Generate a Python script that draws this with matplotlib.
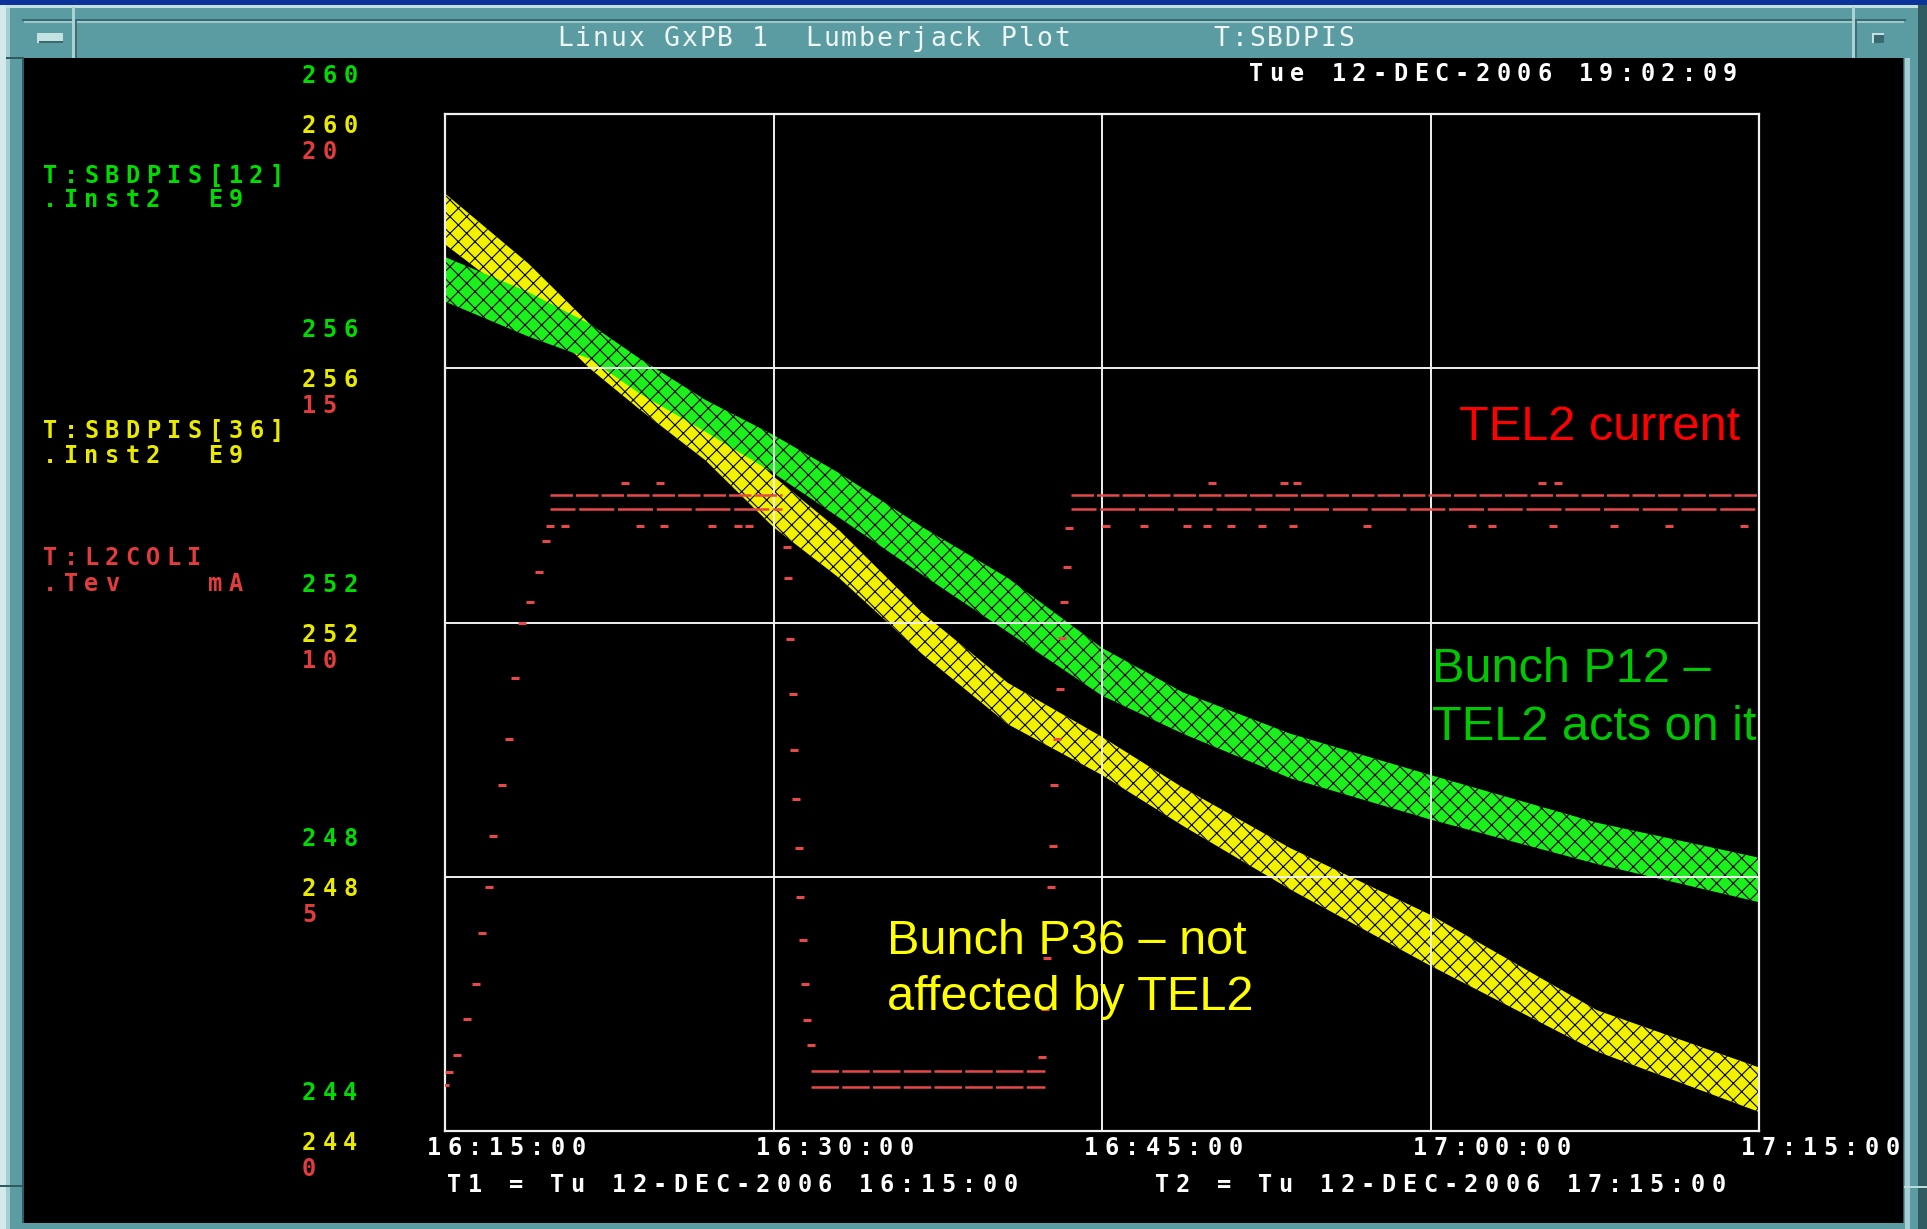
import numpy as np
import matplotlib
matplotlib.use('Agg')
import matplotlib.pyplot as plt
from matplotlib.patches import Rectangle

# Tiempo en minutos desde 16:15:00
t_tick = [0, 15, 30, 45, 60]
t_labels = ['16:15:00', '16:30:00', '16:45:00', '17:00:00', '17:15:00']
y_ticks = [260, 256, 252, 248, 244]          # T:SBDPIS[12] y [36], E9
red_ticks = [20, 15, 10, 5, 0]               # T:L2COLI, mA

# Banda P36 (amarilla): bordes superior / inferior
t_p36 = [0, 3.8, 6.6, 8.9, 11.9, 15, 18, 21.8, 25.7, 30, 33.7, 38.6, 45, 52.6, 60]
p36_hi = [258.75, 257.65, 256.7, 256.05, 255.3, 254.3, 253.45, 252.15, 251.05, 250.2,
          249.4, 248.45, 247.4, 245.9, 245.0]
p36_lo = [257.95, 256.95, 256.0, 255.35, 254.55, 253.5, 252.7, 251.5, 250.4, 249.6,
          248.8, 247.8, 246.6, 245.25, 244.3]

# Banda P12 (verde)
t_p12 = [0, 3.8, 6.6, 8.9, 11.9, 15, 18, 21.8, 25.7, 30, 33.7, 38.6, 45, 52.6, 60]
p12_hi = [257.75, 257.2, 256.7, 256.15, 255.5, 254.95, 254.35, 253.5, 252.7, 251.6,
          250.9, 250.25, 249.6, 248.85, 248.3]
p12_lo = [257.05, 256.5, 256.15, 255.6, 255.0, 254.35, 253.65, 252.75, 251.85, 250.85,
          250.25, 249.55, 248.9, 248.2, 247.6]

# Corriente TEL2 (mA): rampas
ramp1_t = [0.0, 0.17, 0.56, 1.0, 1.4, 1.7, 2.0, 2.2, 2.6, 2.9, 3.2, 3.5, 3.9, 4.3, 4.6, 4.8]
ramp1_i = [0.9, 1.16, 1.5, 2.2, 2.9, 3.9, 4.8, 5.8, 6.8, 7.7, 8.9, 10.0, 10.4, 11.0, 11.6, 11.9]
drop_t = [15.6, 15.66, 15.77, 15.88, 15.94, 16.05, 16.16, 16.2, 16.33, 16.44, 16.55, 16.72]
drop_i = [11.49, 10.88, 9.67, 8.59, 7.5, 6.53, 5.57, 4.6, 3.75, 2.9, 2.18, 1.7]
ramp2_t = [27.27, 27.38, 27.5, 27.67, 27.78, 27.83, 27.95, 28.06, 28.17, 28.28, 28.4, 28.5]
ramp2_i = [1.45, 2.4, 3.4, 4.8, 5.6, 6.8, 7.7, 8.7, 9.7, 10.4, 11.1, 11.85]
# Mesetas
hi_start = [4.8, 28.6]
hi_end = [15.4, 60]
hi_levels = [12.5, 12.24]
lo_start, lo_end = 16.7, 27.4
lo_levels = [1.18, 0.87]
# Puntos sueltos alrededor de las mesetas
stray_t = [8.2, 9.8, 5.5, 8.9, 10.0, 12.2, 13.4, 13.9, 35.0, 38.3, 38.9, 50.1, 50.8,
           30.2, 31.9, 33.9, 34.8, 35.9, 37.3, 38.7, 42.1, 46.9, 47.8, 50.6, 53.4, 55.9, 59.3]
stray_i = [12.75, 12.75, 11.9, 11.9, 11.9, 11.9, 11.9, 11.9, 12.75, 12.75, 12.75, 12.75, 12.75,
           11.9, 11.9, 11.9, 11.9, 11.9, 11.9, 11.9, 11.9, 11.9, 11.9, 11.9, 11.9, 11.9, 11.9]

W, H = 1927, 1229
TEAL = '#5b9ca2'
GREEN_TXT = '#00dc00'
YELLOW_TXT = '#eaea00'
RED_TXT = '#e23c3c'
MONO = 'DejaVu Sans Mono'

plt.rcParams['hatch.linewidth'] = 0.8
fig = plt.figure(figsize=(W / 100, H / 100), dpi=100, facecolor=TEAL)


def rect(x0, y0, x1, y1, color):
    # coordenadas en pixeles, origen arriba a la izquierda
    fig.add_artist(Rectangle((x0 / W, 1 - y1 / H), (x1 - x0) / W, (y1 - y0) / H,
                             transform=fig.transFigure, facecolor=color,
                             edgecolor='none', zorder=0))


def mono(x, y, s, color, size=17, pitch=20.6, weight='bold'):
    # texto monoespaciado caracter por caracter, y medido desde arriba
    for i, ch in enumerate(s):
        if ch == ' ':
            continue
        fig.text((x + i * pitch) / W, 1 - y / H, ch, color=color, fontsize=size,
                 family=MONO, weight=weight, ha='left', va='center')


# Marco de la ventana
rect(0, 0, W, 5, '#0b3399')
rect(0, 5, W, 8, '#c4e0e0')
rect(0, 5, 6, H, '#d4eaea')
rect(6, 8, 10, H, '#a6ced0')
rect(22, 19, 1906, 21, '#356a70')
rect(24, 21, 1904, 23, '#9cc8cc')
rect(72, 7, 75, 58, '#a8d2d4')
rect(75, 21, 77, 58, '#3c6e74')
rect(1852, 7, 1855, 58, '#a8d2d4')
rect(1855, 21, 1857, 58, '#3c6e74')
rect(37, 33, 63, 43, '#c4e2e2')
rect(39, 41, 63, 43, '#3a6a70')
rect(1872, 33, 1884, 43, '#c4e2e2')
rect(1874, 35, 1884, 43, '#3a6a70')
rect(1918, 5, W, H, '#2e5a60')
rect(1905, 58, 1910, H, '#a6ced0')
rect(6, 57, 24, 59, '#2e5a60')
rect(0, 1185, 24, 1187, '#2e5a60')
rect(1903, 1186, W, 1188, '#b8dcdc')
rect(22, 58, 1904, 1223, '#2e5a60')
rect(24, 58, 1903, 1223, 'black')

# Textos del marco
title = 'Linux GxPB 1  Lumberjack Plot        T:SBDPIS'
mono(557, 39, title, '#eef6f6', size=19, pitch=17.75, weight='normal')
mono(1249, 74, 'Tue 12-DEC-2006 19:02:09', 'white')

# Ejes principales
left, right, top, bottom = 445, 1759, 114, 1131
ax = fig.add_axes([left / W, 1 - bottom / H, (right - left) / W, (bottom - top) / H])
ax.set_facecolor('black')
ax.set_xlim(0, 60)
ax.set_ylim(244, 260)
ax.set_xticks(t_tick)
ax.set_yticks(y_ticks)
ax.tick_params(length=0, labelbottom=False, labelleft=False)
ax.grid(True, color='#f0f0f0', lw=1.4)
ax.set_axisbelow(False)
for sp in ax.spines.values():
    sp.set_color('#f0f0f0')
    sp.set_linewidth(1.6)

# Bandas de intensidad (textura moteada con trama negra sobre el color)
ax.fill_between(t_p36, p36_lo, p36_hi, facecolor='#f2f200', edgecolor='black',
                hatch='xx', lw=0, zorder=1)
ax.fill_between(t_p12, p12_lo, p12_hi, facecolor='#1cf01c', edgecolor='black',
                hatch='xx', lw=0, zorder=1.1)

# Corriente TEL2 en eje gemelo (0-20 mA)
ax2 = ax.twinx()
ax2.set_ylim(0, 20)
ax2.set_xlim(0, 60)
ax2.axis('off')
RED = '#e84848'
ax2.hlines([hi_levels[0]] * 2, hi_start, hi_end, color=RED, lw=1.8,
           linestyles=(0, (9, 1.2)), zorder=3)
ax2.hlines([hi_levels[1]] * 2, hi_start, hi_end, color=RED, lw=1.8,
           linestyles=(4, (14, 1.5)), zorder=3)
ax2.hlines(lo_levels, lo_start, lo_end, color=RED, lw=1.8,
           linestyles=(0, (11, 1.3)), zorder=3)
for tt, ii in [(ramp1_t, ramp1_i), (drop_t, drop_i), (ramp2_t, ramp2_i), (stray_t, stray_i)]:
    ax2.plot(tt, ii, ls='none', marker='_', ms=6, mew=2.2, color=RED, zorder=3)

# Etiquetas de los ejes (tres escalas apiladas)
for gy, rv in zip(y_ticks, red_ticks):
    ypix = H - ax.transData.transform((0, gy))[1]
    mono(302, ypix - 38, str(gy), GREEN_TXT)
    mono(302, ypix + 12, str(gy), YELLOW_TXT)
    mono(302, ypix + 38, str(rv), RED_TXT)

for tv, lab in zip(t_tick, t_labels):
    xpix = ax.transData.transform((tv, 244))[0]
    mono(xpix - 18, bottom + 17, lab, 'white')

mono(447, 1185, 'T1 = Tu 12-DEC-2006 16:15:00', 'white')
mono(1155, 1185, 'T2 = Tu 12-DEC-2006 17:15:00', 'white')

# Leyenda de canales
mono(43, 176, 'T:SBDPIS[12]', GREEN_TXT)
mono(43, 200, '.Inst2  E9', GREEN_TXT)
mono(43, 431, 'T:SBDPIS[36]', YELLOW_TXT)
mono(43, 456, '.Inst2  E9', YELLOW_TXT)
mono(43, 558, 'T:L2COLI', RED_TXT)
mono(43, 584, '.Tev    mA', RED_TXT)

# Anotaciones
SANS = 'Liberation Sans'
fig.text(1740 / W, 1 - 428 / H, 'TEL2 current', color='#ff0000', fontsize=35,
         family=SANS, ha='right', va='center')
fig.text(1432 / W, 1 - 670 / H, 'Bunch P12 \u2013', color='#00c800', fontsize=35,
         family=SANS, ha='left', va='center')
fig.text(1432 / W, 1 - 728 / H, 'TEL2 acts on it', color='#00c800', fontsize=35,
         family=SANS, ha='left', va='center')
fig.text(887 / W, 1 - 941 / H, 'Bunch P36 \u2013 not', color='#ffff00', fontsize=35,
         family=SANS, ha='left', va='center')
fig.text(887 / W, 1 - 998 / H, 'affected by TEL2', color='#ffff00', fontsize=35,
         family=SANS, ha='left', va='center')

fig.savefig('out.png', dpi=100, facecolor=fig.get_facecolor())
